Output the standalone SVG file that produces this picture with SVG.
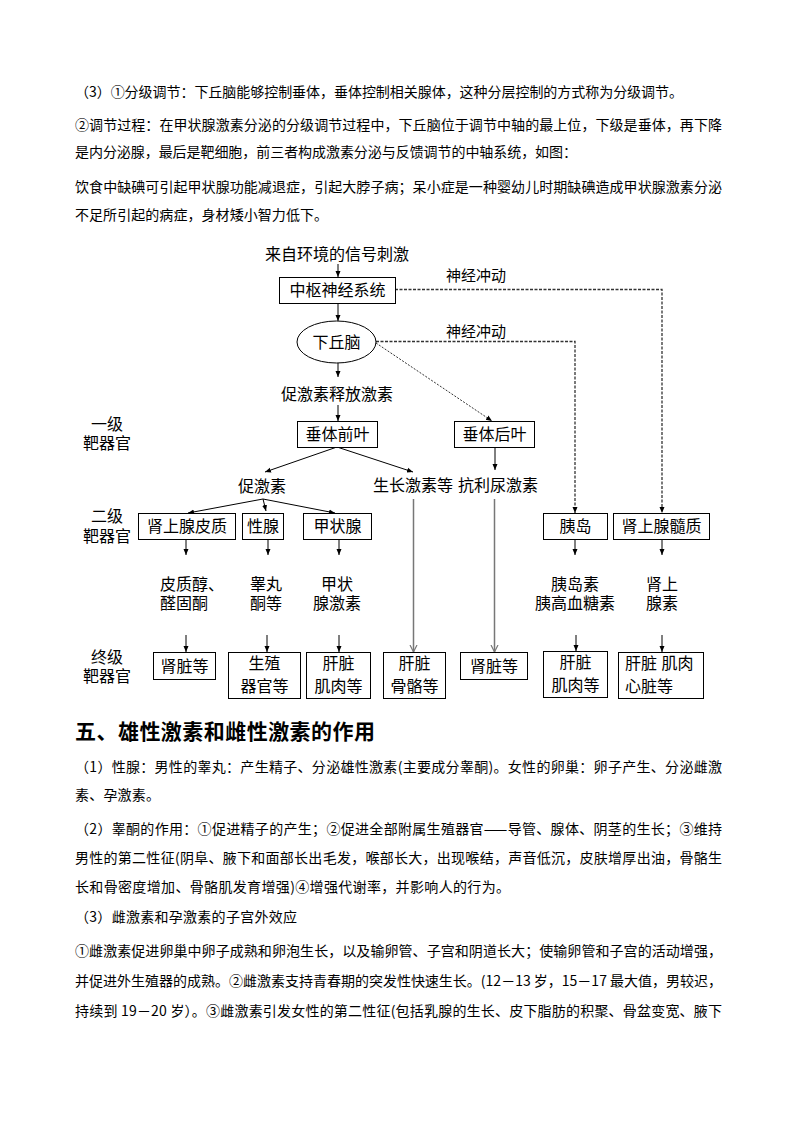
<svg xmlns="http://www.w3.org/2000/svg" width="794" height="1123" viewBox="0 0 794 1123">
<style>
  text { font-family: "Noto Sans CJK SC", "Noto Sans CJK JP", sans-serif; fill: #000; }
  .body { font-size: 14px; }
  .head { font-size: 21px; font-weight: bold; }
  .d { font-size: 16px; text-anchor: middle; }
  .ds { font-size: 16px; }
  .st { font-family: "Liberation Sans", "Noto Sans CJK SC", sans-serif; }
  .lab { font-size: 15px; text-anchor: middle; }
  .box { fill: #fff; stroke: #000; stroke-width: 1; }
  .ln { stroke: #000; stroke-width: 1; fill: none; }
  .dash { stroke: #333; stroke-width: 1.3; fill: none; stroke-dasharray: 3 1.5; }
  .dot { stroke: #333; stroke-width: 1; fill: none; stroke-dasharray: 2 1.5; }
  .grey { stroke: #777; stroke-width: 1.5; fill: none; }
</style>
<defs>
  <marker id="ah" markerWidth="7" markerHeight="7" refX="6" refY="3" orient="auto" markerUnits="userSpaceOnUse">
    <path d="M0,0.5 L6,3 L0,5.5 Z" fill="#000"/>
  </marker>
  <marker id="ao" markerWidth="9" markerHeight="9" refX="7" refY="4" orient="auto" markerUnits="userSpaceOnUse">
    <path d="M0,0.5 L7,4 L0,7.5" fill="none" stroke="#777" stroke-width="1.2"/>
  </marker>
</defs>
<rect width="794" height="1123" fill="#fff"/>

<g id="text-top">
  <text x="75" y="97" class="body" textLength="608" lengthAdjust="spacing">（3）①分级调节：下丘脑能够控制垂体，垂体控制相关腺体，这种分层控制的方式称为分级调节。</text>
  <text x="75" y="130" class="body" textLength="647" lengthAdjust="spacing">②调节过程：在甲状腺激素分泌的分级调节过程中，下丘脑位于调节中轴的最上位，下级是垂体，再下降</text>
  <text x="75" y="157" class="body" textLength="502" lengthAdjust="spacing">是内分泌腺，最后是靶细胞，前三者构成激素分泌与反馈调节的中轴系统，如图：</text>
  <text x="75" y="192" class="body" textLength="647" lengthAdjust="spacing">饮食中缺碘可引起甲状腺功能减退症，引起大脖子病；呆小症是一种婴幼儿时期缺碘造成甲状腺激素分泌</text>
  <text x="75" y="220" class="body" textLength="253" lengthAdjust="spacing">不足所引起的病症，身材矮小智力低下。</text>
</g>

<g id="connectors">
  <line class="ln" x1="338" y1="264" x2="338" y2="277" marker-end="url(#ah)"/>
  <line class="ln" x1="338" y1="303" x2="338" y2="321" marker-end="url(#ah)"/>
  <line class="ln" x1="338" y1="363" x2="338" y2="377" marker-end="url(#ah)"/>
  <line class="ln" x1="338" y1="405" x2="338" y2="421" marker-end="url(#ah)"/>
  <polyline class="dash" points="395,289.5 662,289.5 662,513" marker-end="url(#ah)"/>
  <polyline class="dash" points="376,341.5 575,341.5 575,513" marker-end="url(#ah)"/>
  <line class="dot" x1="376" y1="343" x2="492" y2="421" marker-end="url(#ah)"/>
  <line class="ln" x1="337" y1="447" x2="265" y2="472" marker-end="url(#ah)"/>
  <line class="ln" x1="337" y1="447" x2="413" y2="472" marker-end="url(#ah)"/>
  <line class="ln" x1="495" y1="447" x2="495" y2="470" marker-end="url(#ah)"/>
  <line class="ln" x1="263" y1="499" x2="188" y2="513" marker-end="url(#ah)"/>
  <line class="ln" x1="263" y1="499" x2="266" y2="511" marker-end="url(#ah)"/>
  <line class="ln" x1="263" y1="499" x2="335" y2="513" marker-end="url(#ah)"/>
  <line class="ln" x1="186" y1="539" x2="186" y2="555" marker-end="url(#ah)"/>
  <line class="ln" x1="268" y1="539" x2="268" y2="555" marker-end="url(#ah)"/>
  <line class="ln" x1="339" y1="539" x2="339" y2="555" marker-end="url(#ah)"/>
  <line class="ln" x1="575" y1="539" x2="575" y2="555" marker-end="url(#ah)"/>
  <line class="ln" x1="662" y1="539" x2="662" y2="555" marker-end="url(#ah)"/>
  <line class="ln" x1="186" y1="635" x2="186" y2="652" marker-end="url(#ah)"/>
  <line class="ln" x1="267" y1="635" x2="267" y2="652" marker-end="url(#ah)"/>
  <line class="ln" x1="339" y1="635" x2="339" y2="652" marker-end="url(#ah)"/>
  <line class="ln" x1="576" y1="635" x2="576" y2="651" marker-end="url(#ah)"/>
  <line class="ln" x1="662" y1="635" x2="662" y2="652" marker-end="url(#ah)"/>
  <line class="grey" x1="413.5" y1="499" x2="413.5" y2="652" marker-end="url(#ao)"/>
  <line class="grey" x1="494.5" y1="499" x2="494.5" y2="652" marker-end="url(#ao)"/>
</g>

<g id="labels">
  <text class="d" x="337" y="260">来自环境的信号刺激</text>
  <text class="lab" x="476" y="281">神经冲动</text>
  <text class="lab" x="476" y="337">神经冲动</text>
  <text class="d" x="337" y="400">促激素释放激素</text>
  <text class="d" x="262" y="492">促激素</text>
  <text class="d" x="413" y="491">生长激素等</text>
  <text class="d" x="498" y="491">抗利尿激素</text>
  <text class="d st" x="107" y="430">一级<tspan x="107" dy="19">靶器官</tspan></text>
  <text class="d st" x="107" y="522">二级<tspan x="107" dy="20">靶器官</tspan></text>
  <text class="d st" x="107" y="663">终级<tspan x="107" dy="19">靶器官</tspan></text>
</g>

<g id="hormones">
  <text class="ds st" x="160" y="590">皮质醇、<tspan x="160" dy="19">醛固酮</tspan></text>
  <text class="d st" x="266" y="590">睾丸<tspan x="266" dy="19">酮等</tspan></text>
  <text class="d st" x="337" y="590">甲状<tspan x="337" dy="19">腺激素</tspan></text>
  <text class="d st" x="575" y="590">胰岛素<tspan x="575" dy="19">胰高血糖素</tspan></text>
  <text class="d st" x="662" y="590">肾上<tspan x="662" dy="19">腺素</tspan></text>
</g>

<g id="node-cns"><rect class="box" x="279.5" y="277.5" width="116" height="26"/><text class="d" x="337.5" y="296">中枢神经系统</text></g>
<g id="node-hypothalamus"><ellipse class="box" cx="336.5" cy="342" rx="39.5" ry="21"/><text class="d" x="336.5" y="348">下丘脑</text></g>
<g id="node-anterior"><rect class="box" x="297.5" y="421.5" width="80" height="26"/><text class="d" x="337.5" y="440">垂体前叶</text></g>
<g id="node-posterior"><rect class="box" x="454.5" y="421.5" width="80" height="26"/><text class="d" x="494.5" y="440">垂体后叶</text></g>

<g id="node-adrenal-cortex"><rect class="box" x="138.5" y="513.5" width="97" height="26"/><text class="d" x="187" y="532">肾上腺皮质</text></g>
<g id="node-gonad"><rect class="box" x="242.5" y="513.5" width="41" height="26"/><text class="d" x="263" y="532">性腺</text></g>
<g id="node-thyroid"><rect class="box" x="303.5" y="513.5" width="68" height="26"/><text class="d" x="337.5" y="532">甲状腺</text></g>
<g id="node-islet"><rect class="box" x="543.5" y="513.5" width="64" height="26"/><text class="d" x="575.5" y="532">胰岛</text></g>
<g id="node-adrenal-medulla"><rect class="box" x="613.5" y="513.5" width="96" height="26"/><text class="d" x="661.5" y="532">肾上腺髓质</text></g>

<g id="node-t1"><rect class="box" x="153.5" y="652.5" width="62" height="27"/><text class="d" x="184.5" y="672">肾脏等</text></g>
<g id="node-t2"><rect class="box" x="228.5" y="652.5" width="72" height="46"/><text class="d st" x="264.5" y="669">生殖<tspan x="264.5" dy="23">器官等</tspan></text></g>
<g id="node-t3"><rect class="box" x="306.5" y="652.5" width="64" height="46"/><text class="d st" x="338.5" y="669">肝脏<tspan x="338.5" dy="23">肌肉等</tspan></text></g>
<g id="node-t4"><rect class="box" x="383.5" y="652.5" width="62" height="46"/><text class="d st" x="414.5" y="669">肝脏<tspan x="414.5" dy="23">骨骼等</tspan></text></g>
<g id="node-t5"><rect class="box" x="460.5" y="652.5" width="67" height="27"/><text class="d" x="494" y="672">肾脏等</text></g>
<g id="node-t6"><rect class="box" x="543.5" y="651.5" width="64" height="46"/><text class="d st" x="575.5" y="668">肝脏<tspan x="575.5" dy="23">肌肉等</tspan></text></g>
<g id="node-t7"><rect class="box" x="618.5" y="652.5" width="85" height="46"/><text class="ds st" x="625" y="669">肝脏 肌肉<tspan x="625" dy="23">心脏等</tspan></text></g>

<g id="text-bottom">
  <text x="75" y="739" class="head" textLength="300" lengthAdjust="spacing">五、雄性激素和雌性激素的作用</text>
  <text x="75" y="772" class="body" textLength="647" lengthAdjust="spacing">（1）性腺：男性的睾丸：产生精子、分泌雄性激素(主要成分睾酮)。女性的卵巢：卵子产生、分泌雌激</text>
  <text x="75" y="800" class="body" textLength="85" lengthAdjust="spacing">素、孕激素。</text>
  <text x="75" y="834" class="body" textLength="647" lengthAdjust="spacing">（2）睾酮的作用：①促进精子的产生；②促进全部附属生殖器官——导管、腺体、阴茎的生长；③维持</text>
  <text x="75" y="863" class="body" textLength="647" lengthAdjust="spacing">男性的第二性征(阴阜、腋下和面部长出毛发，喉部长大，出现喉结，声音低沉，皮肤增厚出油，骨骼生</text>
  <text x="75" y="892" class="body" textLength="435" lengthAdjust="spacing">长和骨密度增加、骨骼肌发育增强)④增强代谢率，并影响人的行为。</text>
  <text x="75" y="922" class="body" textLength="222" lengthAdjust="spacing">（3）雌激素和孕激素的子宫外效应</text>
  <text x="75" y="956" class="body" textLength="647" lengthAdjust="spacing">①雌激素促进卵巢中卵子成熟和卵泡生长，以及输卵管、子宫和阴道长大；使输卵管和子宫的活动增强，</text>
  <text x="75" y="986" class="body" textLength="647" lengthAdjust="spacing">并促进外生殖器的成熟。②雌激素支持青春期的突发性快速生长。(12－13 岁，15－17 最大值，男较迟，</text>
  <text x="75" y="1016" class="body" textLength="647" lengthAdjust="spacing">持续到 19－20 岁）。③雌激素引发女性的第二性征(包括乳腺的生长、皮下脂肪的积聚、骨盆变宽、腋下</text>
</g>
</svg>
